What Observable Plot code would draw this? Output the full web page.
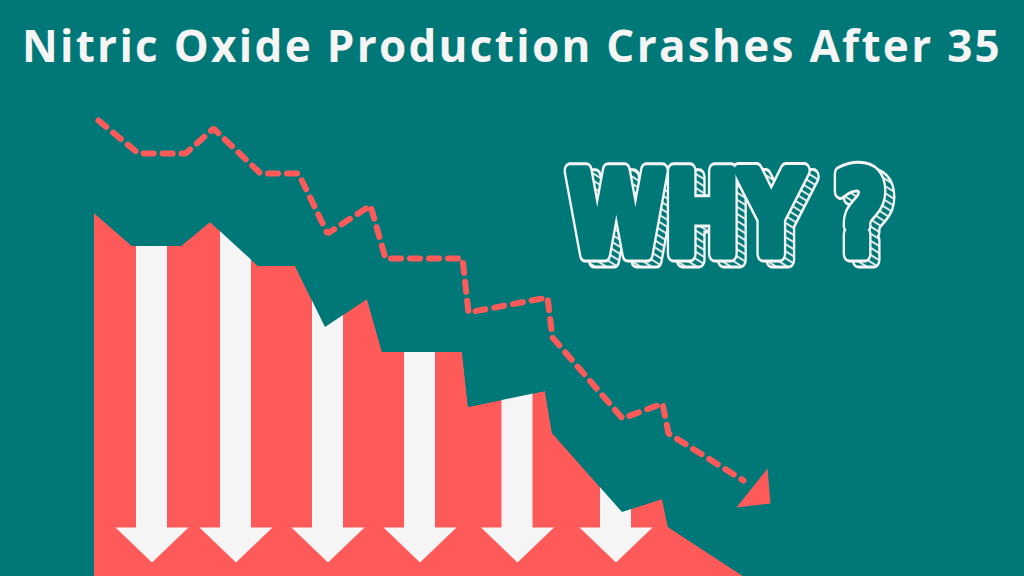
<!DOCTYPE html>
<html>
<head>
<meta charset="utf-8">
<script src="https://cdn.jsdelivr.net/npm/d3@7"></script>
<script src="https://cdn.jsdelivr.net/npm/@observablehq/plot@0.6"></script>
<style>
  html, body { margin: 0; padding: 0; background: #007878; }
  #wrap { width: 1024px; height: 576px; overflow: hidden; position: relative; background: #007878; }
  #title {
    height: 78px; padding-top: 18px; line-height: 54px;
    text-align: center; color: #f5f5f5;
    font-family: "Open Sans", sans-serif; font-weight: 700; font-size: 44px;
    letter-spacing: 2.3px; white-space: nowrap;
  }
  #chart svg { display: block; }
</style>
</head>
<body>
<div id="wrap">
  <div id="title">Nitric Oxide Production Crashes After 35</div>
  <div id="chart"></div>
</div>
<script>
// Top edge of the falling red area (x position, production level)
const edgeX     = [94, 132, 181, 210, 258, 295, 325, 367, 382, 462, 468, 545, 552, 622, 662, 668, 743];
const edgeLevel = [363, 330, 330, 354, 310, 310, 249, 277, 224, 224, 169, 185, 143, 64, 77, 49, 0];
// Dashed trend line
const trendX     = [98, 138, 185, 213, 260, 298, 327, 370, 385, 462, 468, 547, 552, 622, 662, 668, 743];
const trendLevel = [456, 423, 423, 448, 403, 403, 343, 371, 318, 318, 264, 279, 239, 158, 173, 143, 96];
// Trend arrowhead
const headX     = [767, 770, 736];
const headLevel = [108, 73, 69];
// Down arrows (centres)
const arrowX = [151.5, 235.5, 327.5, 419.5, 517, 615.5];
const labels = ["WHY ?"];

const TEAL = "#007878", RED = "#ff5a5a", WHITE = "#f5f5f5";

const edge = edgeX.map((x, i) => ({x, level: edgeLevel[i]}));
const trend = trendX.map((x, i) => ({x, level: trendLevel[i]}));
const head = headX.map((x, i) => ({x, level: headLevel[i]}));
const HALF_SHAFT = 15.5, HALF_HEAD = 36.5, HEAD_TOP = 49, HEAD_TIP = 14;
const heads = arrowX.flatMap((c, k) => [
  {k, x: c - HALF_HEAD, level: HEAD_TOP},
  {k, x: c + HALF_HEAD, level: HEAD_TOP},
  {k, x: c, level: HEAD_TIP}
]);

const face = {
  fontFamily: "DejaVu Sans", fontWeight: "bold", fontSize: 114,
  fill: TEAL, stroke: TEAL, strokeWidth: 11, strokeLinejoin: "round",
  paintOrder: "stroke", text: d => d
};

const plot = Plot.plot({
  width: 1024, height: 480,
  margin: 0,
  x: {domain: [0, 1024], axis: null},
  y: {domain: [0, 480], axis: null},
  style: {background: "transparent"},
  marks: [
    Plot.areaY(edge, {x: "x", y1: 0, y2: "level", fill: RED, curve: "linear"}),
    Plot.rect(arrowX, {x1: d => d - HALF_SHAFT, x2: d => d + HALF_SHAFT, y1: HEAD_TOP - 1, y2: 480, fill: WHITE}),
    Plot.areaY(edge, {x: "x", y1: "level", y2: 480, fill: TEAL}),
    Plot.line(heads, {x: "x", y: "level", z: "k", fill: WHITE, stroke: "none"}),
    Plot.line(trend, {x: "x", y: "level", stroke: RED, strokeWidth: 6, strokeDasharray: "10 9", strokeLinejoin: "miter"}),
    Plot.line(head, {x: "x", y: "level", fill: RED, stroke: "none"}),
    Plot.text(labels, {...face, x: 726, y: 359})
  ]
});

// hatch pattern for the 3D extrusion
const NS = "http://www.w3.org/2000/svg";
const defs = document.createElementNS(NS, "defs");
defs.innerHTML = `<pattern id="hatch" patternUnits="userSpaceOnUse" width="6" height="6" patternTransform="rotate(32)">
  <rect width="6" height="6" fill="${TEAL}"/>
  <line x1="0" y1="3" x2="6" y2="3" stroke="${WHITE}" stroke-width="1.8"/>
</pattern>`;
plot.insertBefore(defs, plot.firstChild);

// outline + hatched extrusion drawn as <use> copies of the label
const layers = [
  {dx: 9, dy: 6, fill: WHITE, stroke: WHITE, sw: 17},
  {dx: 9, dy: 6, fill: "url(#hatch)", stroke: "url(#hatch)", sw: 11},
  {dx: 0, dy: 0, fill: WHITE, stroke: WHITE, sw: 17}
];
plot.querySelectorAll("text").forEach((t, i) => {
  if (!labels.includes(t.textContent)) return;
  t.setAttribute("id", "lab" + i);
  t.setAttribute("textLength", "318");
  t.setAttribute("lengthAdjust", "spacingAndGlyphs");
  layers.forEach(L => {
    const u = document.createElementNS(NS, "use");
    u.setAttribute("href", "#lab" + i);
    u.setAttribute("transform", `translate(${L.dx},${L.dy})`);
    u.setAttribute("fill", L.fill);
    u.setAttribute("stroke", L.stroke);
    u.setAttribute("stroke-width", L.sw);
    u.setAttribute("stroke-linejoin", "round");
    u.setAttribute("paint-order", "stroke");
    u.setAttribute("aria-hidden", "true");
    t.parentNode.insertBefore(u, t);
  });
});
document.getElementById("chart").appendChild(plot);
</script>
</body>
</html>
